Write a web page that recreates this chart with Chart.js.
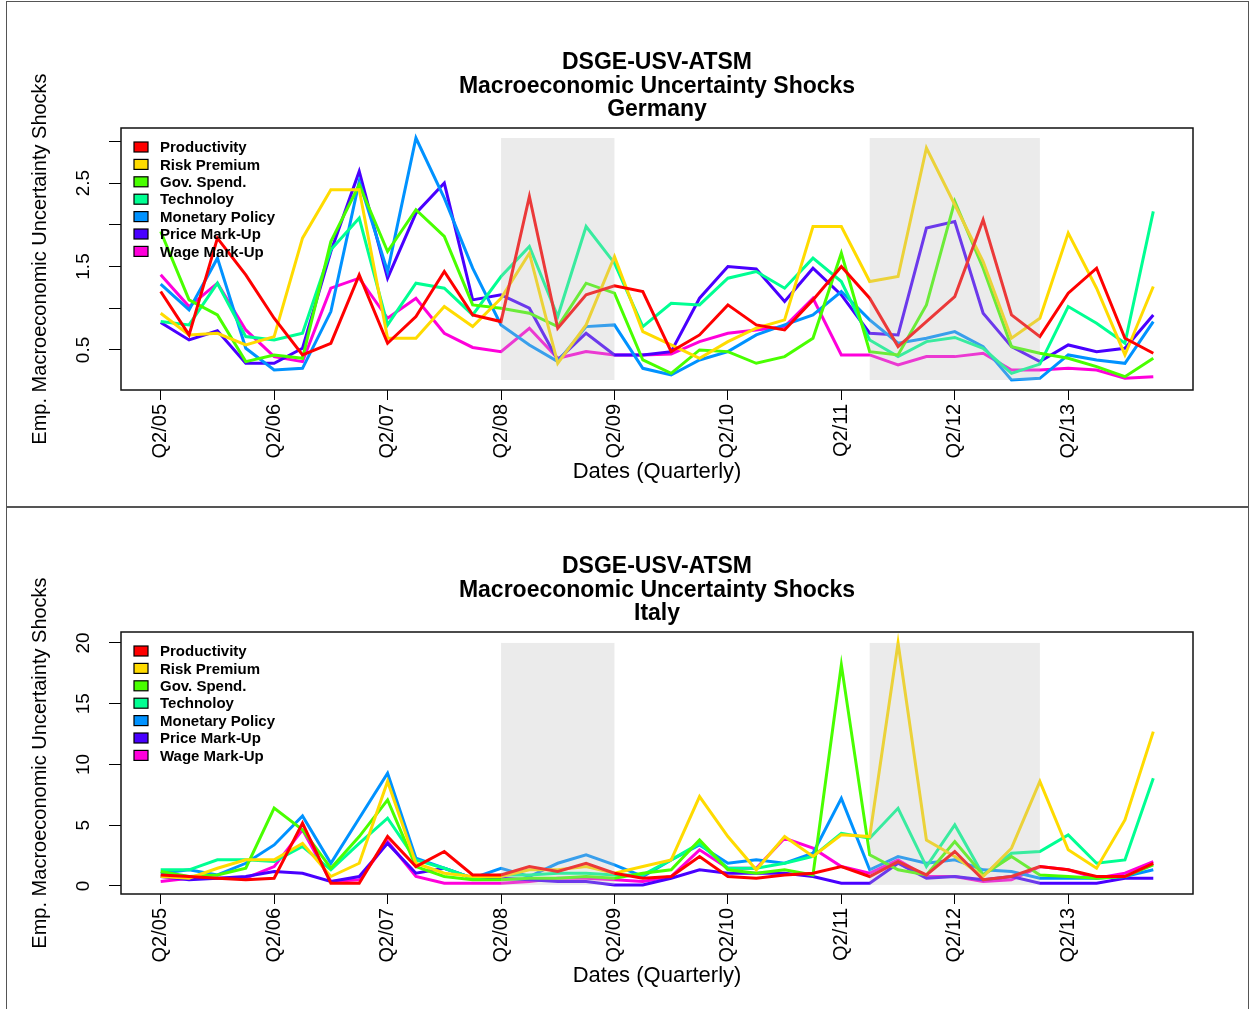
<!DOCTYPE html>
<html>
<head>
<meta charset="utf-8">
<title>DSGE-USV-ATSM Macroeconomic Uncertainty Shocks</title>
<script src="https://cdn.jsdelivr.net/npm/chart.js@4.4.1/dist/chart.umd.min.js"></script>
<style>
  body{margin:0;background:#fff;width:1250px;height:1009px;overflow:hidden;position:relative;}
  .panel{position:absolute;left:0;width:1250px;height:505px;}
  .frame{position:absolute;border:1.5px solid #555;box-sizing:border-box;pointer-events:none;}
</style>
</head>
<body>
<div class="panel" style="top:0"><canvas id="germanyChart" width="1250" height="505"></canvas></div>
<div class="panel" style="top:504px"><canvas id="italyChart" width="1250" height="505"></canvas></div>
<div class="frame" style="left:6px;top:1px;width:1243px;height:507px"></div>
<div class="frame" style="left:6px;top:506px;width:1243px;height:520px"></div>
<script>
const FONT = "'Liberation Sans', Arial, sans-serif";

// quarters Q2/05 .. Q1/14
const quarters = [
  "Q2/05","Q3/05","Q4/05","Q1/06","Q2/06","Q3/06","Q4/06","Q1/07","Q2/07","Q3/07","Q4/07","Q1/08",
  "Q2/08","Q3/08","Q4/08","Q1/09","Q2/09","Q3/09","Q4/09","Q1/10","Q2/10","Q3/10","Q4/10","Q1/11",
  "Q2/11","Q3/11","Q4/11","Q1/12","Q2/12","Q3/12","Q4/12","Q1/13","Q2/13","Q3/13","Q4/13","Q1/14"
];
const tickQuarters = ["Q2/05","Q2/06","Q2/07","Q2/08","Q2/09","Q2/10","Q2/11","Q2/12","Q2/13"];

const shockNames = ["Productivity","Risk Premium","Gov. Spend.","Technoloy","Monetary Policy","Price Mark-Up","Wage Mark-Up"];
const shockColors = ["#FF0000","#FFDB00","#49FF00","#00FF92","#0092FF","#4900FF","#FF00DB"];

// shaded periods (first and last quarter)
const shadeFrom = ["Q2/08","Q3/11"];
const shadeTo   = ["Q2/09","Q1/13"];

// Germany
const deProductivity = [1.20,0.68,1.84,1.40,0.88,0.44,0.58,1.40,0.58,0.90,1.44,0.92,0.84,2.34,0.76,1.16,1.27,1.20,0.48,0.68,1.04,0.80,0.74,1.10,1.50,1.12,0.54,0.84,1.14,2.06,0.92,0.66,1.18,1.48,0.64,0.46];
const deRiskPremium  = [0.94,0.68,0.70,0.56,0.66,1.84,2.42,2.42,0.64,0.64,1.02,0.78,1.12,1.66,0.34,0.80,1.62,0.72,0.56,0.40,0.60,0.76,0.86,1.98,1.98,1.32,1.38,2.92,2.24,1.56,0.64,0.88,1.90,1.24,0.44,1.26];
const deGovSpend     = [1.92,1.10,0.92,0.36,0.44,0.40,1.80,2.48,1.68,2.18,1.86,1.04,1.00,0.94,0.78,1.30,1.18,0.38,0.22,0.50,0.48,0.34,0.42,0.64,1.66,0.48,0.44,1.04,2.28,1.48,0.54,0.46,0.40,0.30,0.18,0.40];
const deTechnology   = [0.84,0.80,1.30,0.66,0.62,0.70,1.70,2.08,0.80,1.30,1.24,0.92,1.38,1.74,0.90,1.98,1.54,0.78,1.06,1.04,1.36,1.44,1.24,1.60,1.32,0.62,0.42,0.60,0.65,0.52,0.22,0.33,1.02,0.82,0.58,2.16];
const deMonetary     = [1.29,0.98,1.60,0.52,0.26,0.28,0.96,2.52,1.44,3.04,2.32,1.48,0.80,0.56,0.36,0.78,0.80,0.28,0.20,0.38,0.48,0.68,0.80,0.92,1.20,0.86,0.58,0.64,0.72,0.54,0.14,0.16,0.44,0.38,0.34,0.84];
const dePriceMarkup  = [0.83,0.62,0.73,0.34,0.34,0.52,1.68,2.64,1.36,2.14,2.50,1.10,1.16,1.00,0.38,0.70,0.44,0.44,0.48,1.12,1.50,1.47,1.08,1.48,1.16,0.70,0.68,1.96,2.04,0.94,0.54,0.36,0.56,0.48,0.52,0.92];
const deWageMarkup   = [1.40,1.02,1.30,0.74,0.42,0.36,1.24,1.36,0.88,1.12,0.70,0.53,0.48,0.76,0.40,0.48,0.44,0.44,0.45,0.60,0.70,0.74,0.78,1.12,0.44,0.44,0.32,0.42,0.42,0.46,0.26,0.26,0.28,0.26,0.16,0.18];

// Italy
const itProductivity = [0.90,0.77,0.63,0.50,0.63,5.16,0.22,0.22,4.06,1.59,2.83,0.90,0.90,1.59,1.18,1.86,1.04,0.63,0.77,2.42,0.77,0.63,0.90,1.04,1.59,0.77,2.00,0.90,2.83,0.50,0.77,1.59,1.32,0.77,0.77,1.86];
const itRiskPremium  = [0.77,0.63,1.45,2.14,2.14,3.50,0.77,1.86,8.60,1.86,1.04,0.77,0.77,1.32,1.32,1.59,1.04,1.59,2.14,7.35,4.06,1.32,4.06,2.42,4.20,4.06,20.0,3.78,2.42,0.77,3.10,8.60,2.97,1.45,5.43,12.7];
const itGovSpend     = [1.18,0.77,0.90,1.45,6.40,4.61,1.45,4.06,7.08,1.59,0.77,0.50,0.50,0.63,0.63,0.77,0.63,1.04,1.32,3.78,1.32,1.04,1.32,0.90,18.2,2.55,1.32,0.90,3.65,0.90,2.42,0.90,0.77,0.63,0.77,1.73];
const itTechnology   = [1.32,1.32,2.14,2.14,2.00,3.24,1.32,3.50,5.57,2.14,1.45,0.63,0.90,0.90,1.04,1.04,0.90,0.90,2.14,3.50,1.45,1.45,1.86,2.42,4.33,3.92,6.39,1.59,5.02,0.90,2.69,2.83,4.20,1.86,2.14,8.86];
const itMonetary     = [1.04,1.32,0.90,1.86,3.37,5.76,1.86,5.57,9.27,2.28,1.45,0.63,1.45,0.77,1.86,2.55,1.73,0.77,2.14,3.37,1.86,2.14,1.86,2.69,7.20,1.32,2.42,1.86,2.14,1.32,1.18,0.63,0.63,0.63,0.77,1.32];
const itPriceMarkup  = [0.77,0.50,0.63,0.77,1.18,1.04,0.36,0.77,3.50,1.04,1.45,0.63,0.63,0.50,0.36,0.36,0.08,0.08,0.63,1.32,1.04,1.04,1.04,0.77,0.22,0.22,1.86,0.63,0.77,0.50,0.77,0.22,0.22,0.22,0.63,0.63];
const itWageMarkup   = [0.36,0.63,0.63,0.63,1.59,4.61,0.36,0.50,3.65,0.77,0.22,0.22,0.22,0.36,0.63,0.63,0.50,0.36,0.77,2.97,1.45,1.45,3.92,3.10,1.59,1.04,2.14,0.77,0.77,0.36,0.50,1.59,1.32,0.63,1.04,2.00];

const deTicks = [0.5,1,1.5,2,2.5,3];
const deTickLabels = ["0.5","1.5","2.5"];
const itTicks = [0,5,10,15,20];
const itTickLabels = ["0","5","10","15","20"];

// PLUGINS
const panelTitle = {
  id:"panelTitle",
  afterDraw(chart, args, opts){
    const ctx = chart.ctx, a = chart.chartArea;
    ctx.save();
    ctx.fillStyle = "#000";
    ctx.font = "bold 23px " + FONT;
    ctx.textAlign = "center";
    ctx.textBaseline = "middle";
    const ys = [63, 87, 110];
    opts.lines.forEach((t, i) => ctx.fillText(t, (a.left + a.right) / 2, ys[i]));
    ctx.restore();
  }
};

// grey periods, laid over the lines between the lowest and highest value
const shading = {
  id:"shading",
  afterDatasetsDraw(chart){
    const ctx = chart.ctx;
    const xs = chart.scales.x, ys = chart.scales.y;
    let lo = Infinity, hi = -Infinity;
    chart.data.datasets.forEach(d => d.data.forEach(p => { lo = Math.min(lo, p.y); hi = Math.max(hi, p.y); }));
    ctx.save();
    ctx.fillStyle = "rgba(188,188,188,0.3)";
    for (let k = 0; k < shadeFrom.length; k++) {
      const x0 = xs.getPixelForValue(quarters.indexOf(shadeFrom[k]));
      const x1 = xs.getPixelForValue(quarters.indexOf(shadeTo[k]));
      const y0 = ys.getPixelForValue(hi), y1 = ys.getPixelForValue(lo);
      ctx.fillRect(x0, y0, x1 - x0, y1 - y0);
    }
    ctx.restore();
  }
};

const frameAndLabels = {
  id:"frameAndLabels",
  afterDraw(chart, args, opts){
    const ctx = chart.ctx, a = chart.chartArea, ys = chart.scales.y;
    ctx.save();
    // plot box
    ctx.strokeStyle = "#111";
    ctx.lineWidth = 1.5;
    ctx.strokeRect(a.left, a.top, a.right - a.left, a.bottom - a.top);
    // y tick labels, parallel to the axis
    ctx.fillStyle = "#000";
    ctx.font = "19px " + FONT;
    ctx.textAlign = "center";
    ctx.textBaseline = "middle";
    opts.yLabels.forEach(t => {
      ctx.save();
      ctx.translate(a.left - 37, ys.getPixelForValue(parseFloat(t)));
      ctx.rotate(-Math.PI / 2);
      ctx.fillText(t, 0, 0);
      ctx.restore();
    });
    // legend in the top left corner
    ctx.font = "bold 15px " + FONT;
    ctx.textAlign = "left";
    shockNames.forEach((n, i) => {
      const y = a.top + 19 + i * 17.4;
      ctx.fillStyle = shockColors[i];
      ctx.fillRect(a.left + 13, y - 5, 14, 10);
      ctx.strokeStyle = "#000";
      ctx.lineWidth = 1.2;
      ctx.strokeRect(a.left + 13, y - 5, 14, 10);
      ctx.fillStyle = "#000";
      ctx.fillText(n, a.left + 39, y + 1);
    });
    ctx.restore();
  }
};

function makeChart(id, country, series, yMin, yMax, yTicks, yLabels){
  const datasets = series.map((s, k) => ({
    label: shockNames[k],
    data: s.map((v, i) => ({x:i, y:v})),
    borderColor: shockColors[k],
    borderWidth: 3,
    pointRadius: 0,
    tension: 0,
    fill: false
  }));

  return new Chart(document.getElementById(id), {
    type:"line",
    data:{datasets:datasets},
    plugins:[shading, frameAndLabels, panelTitle],
    options:{
      responsive:false,
      animation:false,
      layout:{padding:{top:128, right:57, bottom:0, left:0}},
      plugins:{
        legend:{display:false},
        tooltip:{enabled:false},
        panelTitle:{lines:["DSGE-USV-ATSM","Macroeconomic Uncertainty Shocks",country]},
        frameAndLabels:{yLabels:yLabels}
      },
      scales:{
        x:{
          type:"linear", min:-1.4, max:36.4,
          afterBuildTicks: s => { s.ticks = tickQuarters.map(q => ({value:quarters.indexOf(q)})); },
          afterFit: s => { s.height = 115; },
          ticks:{callback: v => quarters[v], autoSkip:false, minRotation:90, maxRotation:90,
                 color:"#000", font:{family:FONT, size:20}, padding:4},
          grid:{drawOnChartArea:false, drawTicks:true, tickLength:10, color:"#000", lineWidth:1},
          border:{display:false},
          title:{display:true, text:"Dates (Quarterly)", color:"#000",
                 font:{family:FONT, size:22}, padding:{top:0, bottom:20}}
        },
        y:{
          min:yMin, max:yMax,
          afterBuildTicks: s => { s.ticks = yTicks.map(v => ({value:v})); },
          afterFit: s => { s.width = 121; },
          ticks:{display:false},
          grid:{drawOnChartArea:false, drawTicks:true, tickLength:12, color:"#000", lineWidth:1},
          border:{display:false},
          title:{display:true, text:"Emp. Macroeconomic Uncertainty Shocks", color:"#000",
                 font:{family:FONT, size:20}, padding:{top:28, bottom:0}}
        }
      }
    }
  });
}

makeChart("germanyChart", "Germany",
  [deProductivity, deRiskPremium, deGovSpend, deTechnology, deMonetary, dePriceMarkup, deWageMarkup],
  0.02, 3.16, deTicks, deTickLabels);

makeChart("italyChart", "Italy",
  [itProductivity, itRiskPremium, itGovSpend, itTechnology, itMonetary, itPriceMarkup, itWageMarkup],
  -0.67, 20.9, itTicks, itTickLabels);
</script>
</body>
</html>
